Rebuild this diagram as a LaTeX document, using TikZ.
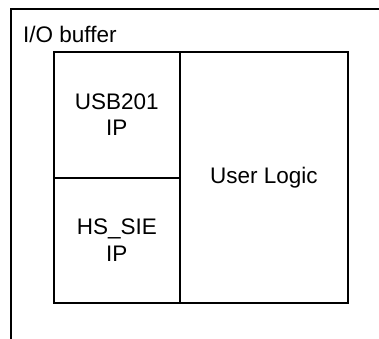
\documentclass[tikz,border=0pt]{standalone}
\usepackage{fontspec}
\setmainfont{Liberation Sans}
\begin{document}
\begin{tikzpicture}[x=1pt,y=-1pt,
  frame/.style={line width=1.6pt, line cap=rect},
  box/.style={draw, line width=1.6pt, anchor=north west, align=center, inner sep=0pt,
    font=\fontsize{22.5}{26.5}\selectfont},
  lbl/.style={inner sep=0pt, font=\fontsize{22.5}{26.5}\selectfont}]
\useasboundingbox (0,0) rectangle (379,338);
\coordinate (ob) at (11,340);
\coordinate (oc) at (11,9);
\coordinate (or) at (381,9);
\draw[frame] (ob) -- (oc) -- (or);
\node[lbl, anchor=base west] (io) at (23,42) {I/O buffer};
\node[box, minimum width=126pt, minimum height=126pt] (usb) at (53,51) {USB201\\IP};
\node[box, minimum width=126pt, minimum height=125pt] (hs) at (53,177) {HS\_SIE\\IP};
\node[box, minimum width=168pt, minimum height=251pt] (user) at (179,51) {User Logic};
\end{tikzpicture}
\end{document}
